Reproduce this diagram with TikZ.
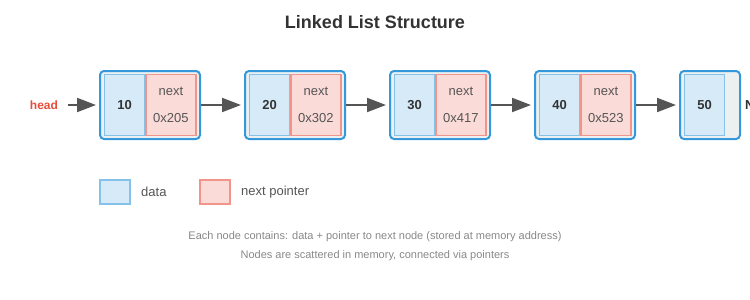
\documentclass[tikz,border=0pt]{standalone}
\usepackage{fontspec}
\setmainfont{Liberation Sans}
\usetikzlibrary{arrows.meta,positioning}
\definecolor{linkblue}{HTML}{3498DB}
\definecolor{cellbg}{HTML}{ECF0F1}
\definecolor{datafill}{HTML}{D6EAF8}
\definecolor{dataline}{HTML}{85C1E9}
\definecolor{ptrfill}{HTML}{FADBD8}
\definecolor{ptrline}{HTML}{F1948A}
\definecolor{arrowgray}{HTML}{555555}
\definecolor{headred}{HTML}{E74C3C}
\definecolor{darktext}{HTML}{333333}
\definecolor{softtext}{HTML}{555555}
\definecolor{notegray}{HTML}{888888}

\begin{document}
\begin{tikzpicture}[x=1pt, y=-1pt,
  cell/.style={rectangle, rounded corners=4pt, draw=linkblue, line width=2pt, fill=cellbg, minimum width=100pt, minimum height=68pt, inner sep=0pt},
  datacell/.style={rectangle, draw=dataline, line width=1.3pt, fill=datafill, minimum width=40pt, minimum height=61pt, inner sep=0pt, text=darktext, font=\bfseries\fontsize{13}{15}\selectfont},
  ptrcell/.style={rectangle, draw=ptrline, line width=1.3pt, fill=ptrfill, minimum width=50pt, minimum height=61pt, inner sep=0pt, align=center, text=softtext, font=\fontsize{13}{27}\selectfont},
  legendbox/.style={rectangle, line width=1.3pt, minimum width=30pt, minimum height=24pt, inner sep=0pt},
  link/.style={-{Triangle[length=19pt,width=14pt]}, line width=2pt, draw=arrowgray, shorten >=3pt}
]
\useasboundingbox (0,0) rectangle (750,300);
\clip (0,0) rectangle (750,300);

\node[text=darktext, font=\bfseries\fontsize{18}{21}\selectfont] (title) at (375,22) {Linked List Structure};

\node[text=headred, font=\bfseries\fontsize{12}{14}\selectfont] (head) at (44,105) {head};

\node[cell] (box1) at (150,105) {};
\node[datacell, anchor=west] (data1) at ([xshift=5pt]box1.west) {10};
\node[ptrcell, right=0pt of data1] (ptr1) {next\\0x205};

\node[cell] (box2) at (295,105) {};
\node[datacell, anchor=west] (data2) at ([xshift=5pt]box2.west) {20};
\node[ptrcell, right=0pt of data2] (ptr2) {next\\0x302};

\node[cell] (box3) at (440,105) {};
\node[datacell, anchor=west] (data3) at ([xshift=5pt]box3.west) {30};
\node[ptrcell, right=0pt of data3] (ptr3) {next\\0x417};

\node[cell] (box4) at (585,105) {};
\node[datacell, anchor=west] (data4) at ([xshift=5pt]box4.west) {40};
\node[ptrcell, right=0pt of data4] (ptr4) {next\\0x523};

\node[cell, minimum width=60pt] (box5) at (710,105) {};
\node[datacell, anchor=west] (data5) at ([xshift=5pt]box5.west) {50};
\node[anchor=west, inner sep=0pt, text=darktext, font=\bfseries\fontsize{13}{15}\selectfont] (null) at (745,105) {NULL};

\draw[link] ([xshift=6pt]head.east) -- (box1.west);
\draw[link] (box1.east) -- (box2.west);
\draw[link] (box2.east) -- (box3.west);
\draw[link] (box3.east) -- (box4.west);
\draw[link] (box4.east) -- (box5.west);

% legend
\node[legendbox, draw=dataline, fill=datafill] (keydata) at (115,192) {};
\node[text=softtext, font=\fontsize{13}{15}\selectfont, right=7pt of keydata] (keydatatext) {data};
\node[legendbox, draw=ptrline, fill=ptrfill] (keyptr) at (215,192) {};
\node[text=softtext, font=\fontsize{13}{15}\selectfont, right=7pt of keyptr] (keyptrtext) {next pointer};

\node[text=notegray, font=\fontsize{11}{13}\selectfont] (note1) at (375,237) {Each node contains: data + pointer to next node (stored at memory address)};
\node[text=notegray, font=\fontsize{11}{13}\selectfont] (note2) at (375,256) {Nodes are scattered in memory, connected via pointers};
\end{tikzpicture}
\end{document}
